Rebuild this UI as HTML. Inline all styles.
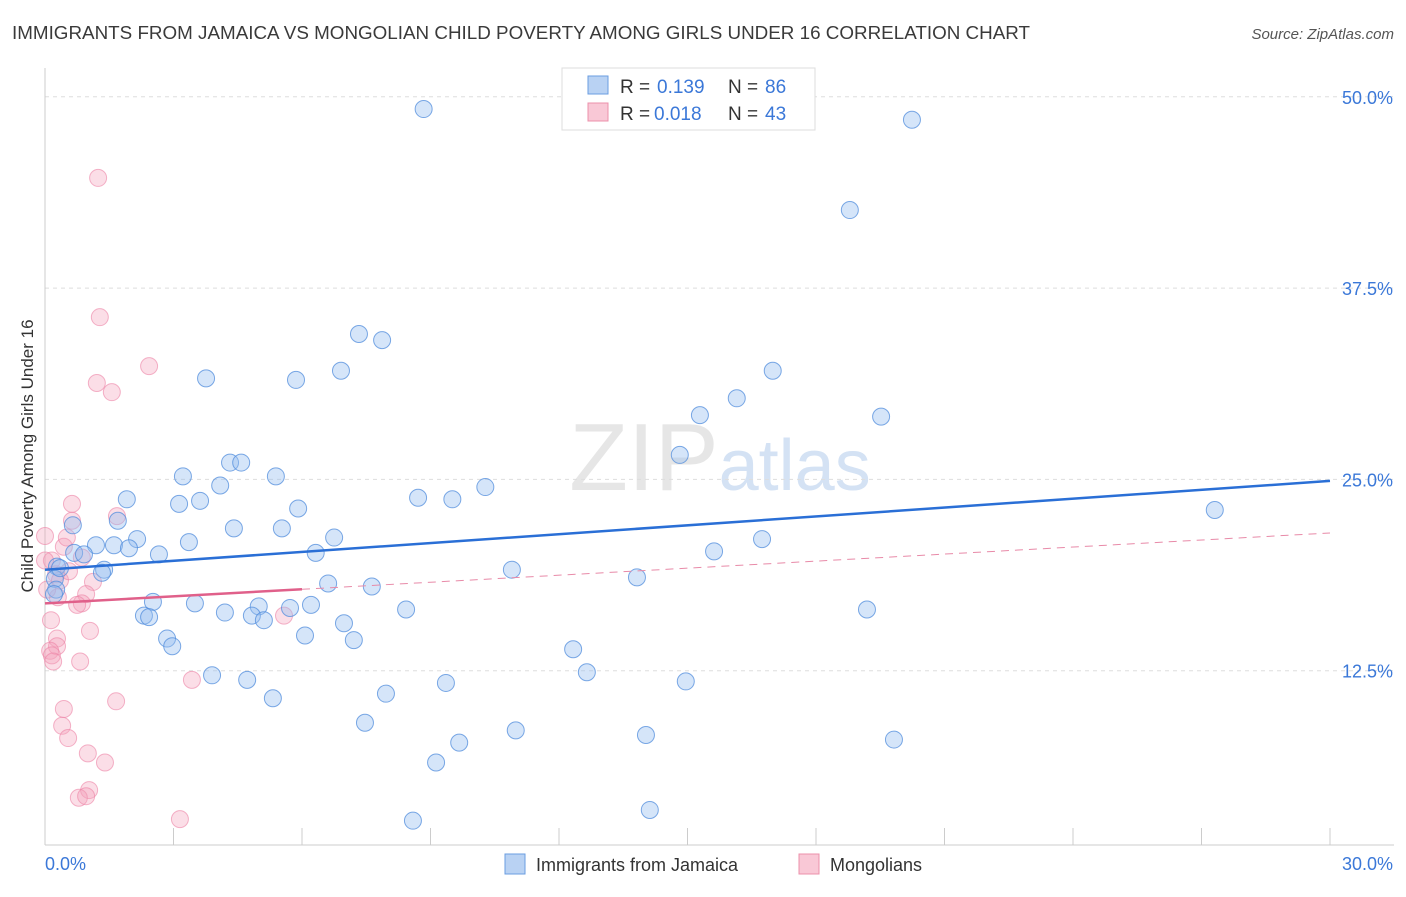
<!DOCTYPE html>
<html><head><meta charset="utf-8"><style>
body{margin:0;background:#fff;font-family:"Liberation Sans",sans-serif;}
svg text{font-family:"Liberation Sans",sans-serif;}
</style></head><body>
<svg id="chart" width="1406" height="892" xmlns="http://www.w3.org/2000/svg">
<text x="12" y="39" font-size="18" fill="#3a3a3a" textLength="1018" lengthAdjust="spacingAndGlyphs">IMMIGRANTS FROM JAMAICA VS MONGOLIAN CHILD POVERTY AMONG GIRLS UNDER 16 CORRELATION CHART</text>
<text x="1394" y="39" font-size="15" fill="#555" text-anchor="end" font-style="italic">Source: ZipAtlas.com</text>
<text x="720" y="490" font-size="96" text-anchor="middle" fill="#e6e6e6" font-family="Liberation Serif">ZIP<tspan fill="#d4e2f4" font-family="Liberation Sans" font-size="72">atlas</tspan></text>
<text transform="translate(33,456) rotate(-90)" font-size="17" fill="#333" text-anchor="middle">Child Poverty Among Girls Under 16</text>
<g id="axes"></g>
<g id="marks"></g>
<rect x="562" y="68" width="253" height="62" fill="#fff" stroke="#ddd"/>
<rect x="588" y="76" width="20" height="18" fill="#b9d2f3" stroke="#6a9de0"/>
<g font-size="19">
<text x="620" y="93" fill="#333">R =</text><text x="657" y="93" fill="#3b78d8">0.139</text>
<text x="728" y="93" fill="#333">N =</text><text x="765" y="93" fill="#3b78d8">86</text></g>
<rect x="588" y="103" width="20" height="18" fill="#f9c8d6" stroke="#ec90ab"/>
<g font-size="19">
<text x="620" y="120" fill="#333">R =</text><text x="654" y="120" fill="#3b78d8">0.018</text>
<text x="728" y="120" fill="#333">N =</text><text x="765" y="120" fill="#3b78d8">43</text></g>
<rect x="505" y="854" width="20" height="20" fill="#b9d2f3" stroke="#6a9de0"/>
<text x="536" y="871" font-size="18" fill="#333">Immigrants from Jamaica</text>
<rect x="799" y="854" width="20" height="20" fill="#f9c8d6" stroke="#ec90ab"/>
<text x="830" y="871" font-size="18" fill="#333">Mongolians</text>
</svg>
<script>
const xTicks=[0,3,6,9,12,15,18,21,24,27,30];
const yTicks=[12.5,25,37.5,50];
const yTickLabels=["12.5%","25.0%","37.5%","50.0%"];
const blueX=[8.84,20.24,18.79,7.33,7.87,3.76,5.86,6.91,16.99,16.15,15.29,19.52,14.82,4.32,4.58,5.39,3.22,1.91,3.13,3.62,4.09,8.71,9.51,10.28,5.91,27.31,0.65,1.70,4.41,5.53,6.75,16.74,2.15,1.19,1.61,1.96,3.36,0.68,0.91,6.32,15.62,2.66,0.28,1.38,1.33,10.90,13.82,0.23,6.61,7.63,0.26,0.21,2.52,3.50,4.99,5.72,6.21,8.43,19.19,2.31,2.43,4.83,4.20,5.11,6.98,2.85,2.97,6.07,7.21,12.33,3.90,4.72,12.65,14.96,9.36,5.32,7.96,7.47,10.99,14.03,19.82,9.67,9.13,14.12,8.59,0.35];
const blueY=[49.2,48.5,42.6,34.5,34.1,31.6,31.5,32.1,32.1,30.3,29.2,29.1,26.6,26.1,26.1,25.2,25.2,23.7,23.4,23.6,24.6,23.8,23.7,24.5,23.1,23.0,22.0,22.3,21.8,21.8,21.2,21.1,21.1,20.7,20.7,20.5,20.9,20.2,20.1,20.2,20.3,20.1,19.3,19.1,18.9,19.1,18.6,18.5,18.2,18.0,17.8,17.5,17.0,16.9,16.7,16.6,16.8,16.5,16.5,16.1,16.0,16.1,16.3,15.8,15.6,14.6,14.1,14.8,14.5,13.9,12.2,11.9,12.4,11.8,11.7,10.7,11.0,9.1,8.6,8.3,8.0,7.8,6.5,3.4,2.7,19.2];
const pinkX=[1.24,1.28,1.21,1.56,2.43,0.63,1.68,0.63,0.44,0.51,0.00,0.86,0.16,0.26,0.35,0.56,1.12,0.96,0.30,0.86,0.75,1.05,0.14,0.28,0.28,0.12,0.16,0.19,0.82,3.43,5.58,1.66,0.44,0.40,0.54,1.00,1.40,1.03,0.79,0.96,3.15,0.00,0.05];
const pinkY=[44.7,35.6,31.3,30.7,32.4,23.4,22.6,22.3,20.6,21.2,21.3,19.9,19.7,18.8,18.4,19.0,18.3,17.5,17.3,16.9,16.8,15.1,15.8,14.6,14.1,13.8,13.5,13.1,13.1,11.9,16.1,10.5,10.0,8.9,8.1,7.1,6.5,4.7,4.2,4.3,2.8,19.7,17.8];
const blueLine=[19.1,24.9];
const pinkLine=[16.9,21.5];
const pinkSolidEnd=6;
const X0=45,X1=1330,Y0=862,YPER=191.3/12.5;
const sx=v=>X0+(v/30)*(X1-X0);
const sy=v=>Y0-v*YPER;
const NS="http://www.w3.org/2000/svg";
const axes=document.getElementById('axes'),marks=document.getElementById('marks');
function mk(tag,attrs,parent){const e=document.createElementNS(NS,tag);for(const k in attrs)e.setAttribute(k,attrs[k]);parent.appendChild(e);return e;}
yTicks.forEach((t,i)=>{
 const g=mk('line',{x1:X0,x2:1394,y1:sy(t),y2:sy(t),stroke:'#ddd','stroke-dasharray':'4,4'},axes);
 
 
 const tx=mk('text',{x:1393,y:sy(t)+7,'font-size':18,fill:'#3b78d8','text-anchor':'end'},axes);
 tx.textContent=yTickLabels[i];
 
 
});
const ya=mk('line',{x1:X0,x2:X0,y1:68,y2:Y0-17,stroke:'#ccc'},axes);


const xa=mk('line',{x1:X0,x2:1394,y1:845,y2:845,stroke:'#ccc'},axes);


xTicks.forEach(t=>{
 const l=mk('line',{x1:sx(t),x2:sx(t),y1:828,y2:845,stroke:'#ccc'},axes);
 
 
});
const xl0=mk('text',{x:45,y:870,'font-size':18,fill:'#3b78d8'},axes);xl0.textContent="0.0%";


const xl1=mk('text',{x:1393,y:870,'font-size':18,fill:'#3b78d8','text-anchor':'end'},axes);xl1.textContent="30.0%";


pinkX.forEach((v,i)=>{
 const c=mk('circle',{cx:sx(v),cy:sy(pinkY[i]),r:8.5,fill:'rgba(244,160,186,0.35)',stroke:'rgba(236,130,165,0.6)','stroke-width':1},marks);
 
 
});
blueX.forEach((v,i)=>{
 const c=mk('circle',{cx:sx(v),cy:sy(blueY[i]),r:8.5,fill:'rgba(150,190,240,0.4)',stroke:'rgba(80,140,220,0.75)','stroke-width':1},marks);
 
 
});
const bl=mk('line',{x1:sx(0),y1:sy(blueLine[0]),x2:sx(30),y2:sy(blueLine[1]),stroke:'#2a6fd6','stroke-width':2.5},marks);


const pm=pinkLine[0]+(pinkLine[1]-pinkLine[0])*pinkSolidEnd/30;
const pd=mk('line',{x1:sx(pinkSolidEnd),y1:sy(pm),x2:sx(30),y2:sy(pinkLine[1]),stroke:'#e88aa8','stroke-width':1,'stroke-dasharray':'8,6'},marks);


const ps=mk('line',{x1:sx(0),y1:sy(pinkLine[0]),x2:sx(pinkSolidEnd),y2:sy(pm),stroke:'#e0608a','stroke-width':2.5},marks);


</script>
</body></html>
